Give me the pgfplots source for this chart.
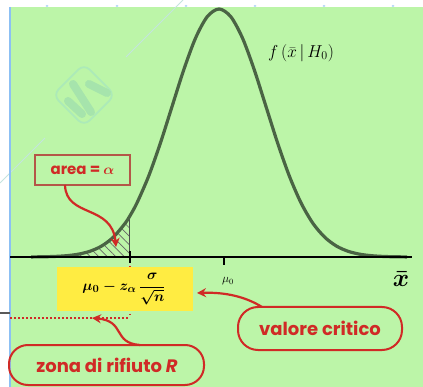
\documentclass[border=0pt]{standalone}
\usepackage{pgfplots}
\pgfplotsset{compat=1.18}
\usepackage{fontspec}
\newfontfamily\comic{Poppins}
\usetikzlibrary{arrows.meta,patterns.meta}

\definecolor{bggreen}{RGB}{188,245,168}
\definecolor{curvecol}{RGB}{74,100,68}
\definecolor{redtxt}{RGB}{208,42,38}
\definecolor{boxbrown}{RGB}{180,86,72}
\definecolor{ylw}{RGB}{255,236,66}
\definecolor{lblue}{RGB}{140,192,244}
\definecolor{wmark}{RGB}{172,234,184}
\definecolor{wstroke}{RGB}{166,228,172}
\definecolor{wline}{RGB}{196,228,222}

% standard normal density f(z) = exp(-z^2/2), tabulated
\pgfplotstableread{
z      f
-4.00  0.0003
-3.75  0.0009
-3.50  0.0022
-3.25  0.0051
-3.00  0.0111
-2.75  0.0228
-2.50  0.0439
-2.25  0.0796
-2.00  0.1353
-1.90  0.1645
-1.75  0.2163
-1.50  0.3247
-1.25  0.4578
-1.00  0.6065
-0.75  0.7548
-0.50  0.8825
-0.25  0.9692
 0.00  1.0000
 0.25  0.9692
 0.50  0.8825
 0.75  0.7548
 1.00  0.6065
 1.25  0.4578
 1.50  0.3247
 1.75  0.2163
 2.00  0.1353
 2.25  0.0796
 2.50  0.0439
 2.75  0.0228
 3.00  0.0111
 3.25  0.0051
 3.50  0.0022
 3.75  0.0009
 4.00  0.0003
}\density

% left tail up to the critical value (rejection area)
\pgfplotstableread{
z      f
-4.00  0
-4.00  0.0003
-3.75  0.0009
-3.50  0.0022
-3.25  0.0051
-3.00  0.0111
-2.75  0.0228
-2.50  0.0439
-2.25  0.0796
-2.00  0.1353
-1.90  0.1645
-1.90  0
}\tail

\begin{document}
\begin{tikzpicture}
% page background
\begin{scope}[x=1pt,y=-1pt]
  \fill[white] (0,0) rectangle (423,387);
  \fill[bggreen] (11,7) rectangle (423,387);
  % faint logo
  \draw[wline, line width=0.8pt] (183,0) -- (126,57);
  \draw[wline, line width=0.8pt] (45,138) -- (0,183);
  \begin{scope}[shift={(84,95)}, rotate=45]
    \draw[wmark, line width=1.8pt, rounded corners=8pt] (-22,-22) rectangle (22,22);
  \end{scope}
  \begin{scope}[wstroke, line width=8pt, line cap=round]
    \draw (68,101) -- (82,114);
    \draw (73,84) -- (91,112);
    \draw (89,84) -- (107,93);
  \end{scope}
\end{scope}

\begin{axis}[
  at={(0,0)}, anchor=north west,
  scale only axis, width=423pt, height=387pt,
  hide axis,
  xmin=-4.660, xmax=4.340,
  ymin=-0.5242, ymax=1.0363,
]
  \addplot[draw=none, pattern={Lines[angle=-45, distance=6pt, line width=0.7pt]},
    pattern color=gray!80!black] table[x=z, y=f] {\tail} \closedcycle;
  \addplot[gray!60!black, line width=1.2pt] coordinates {(-1.90,0) (-1.90,0.1645)};
  \addplot[curvecol, line width=3.2pt, smooth] table[x=z, y=f] {\density};
\end{axis}

\begin{scope}[x=1pt,y=-1pt]
  % left border and marks
  \draw[lblue, line width=2pt] (10,7) -- (10,387);
  \draw[gray!70!black, line width=1.5pt] (0,313) -- (10,313);
  \foreach \px in {47,117,186,255,324,393}
    \fill[lblue!70] (\px,6) ellipse (1.5pt and 1pt);

  % horizontal axis and ticks
  \draw[black, line width=2pt] (10,257) -- (412,257);
  \draw[redtxt, line width=1.5pt, dash pattern=on 1.5pt off 2.5pt] (130,262) -- (130,318);
  \draw[black, line width=2pt] (130,251) -- (130,263);
  \draw[black, line width=2pt] (224,257) -- (224,265);
  \node[font=\fontsize{12}{14}\selectfont] at (228,281) {$\mu_0$};
  \node[font={\fontsize{26}{30}\selectfont\boldmath}] at (401,279) {$\bar{x}$};
  \node[font=\fontsize{17}{20}\selectfont] at (301,53) {$f\,(\bar{x}\,|\,H_0)$};

  % critical value
  \fill[ylw] (57,267) rectangle (193,311);
  \node[font={\fontsize{15}{17}\selectfont\boldmath}] at (124,289)
    {$\displaystyle \mu_0 - z_\alpha\,\frac{\sigma}{\sqrt{n}}$};
  \draw[redtxt, line width=1.5pt, dash pattern=on 1.5pt off 2.5pt] (10,318) -- (130,318);

  % labels
  \draw[boxbrown, line width=1.4pt] (35,155) rectangle (130,185);
  \node[text=redtxt, font={\comic\bfseries\fontsize{15}{17}\selectfont\boldmath}] at (82.5,170) {area = $\alpha$};
  \draw[redtxt, line width=2pt, rounded corners=20pt] (238,307) rectangle (402,350);
  \node[text=redtxt, font={\comic\bfseries\fontsize{18}{20}\selectfont}] at (320,328) {valore critico};
  \draw[redtxt, line width=2pt, rounded corners=19pt] (9,345) rectangle (204,385);
  \node[text=redtxt, font={\comic\bfseries\fontsize{18}{20}\selectfont}] at (107,365) {zona di rifiuto \textit{R}};

  % arrows
  \draw[redtxt, line width=2.2pt, -{Stealth[length=9pt,width=9pt]}]
    (262,307) .. controls (246,297) and (226,292) .. (197,293);
  \draw[redtxt, line width=2.2pt, -{Stealth[length=9pt,width=9pt]}]
    (140,345) .. controls (112,343) and (126,321) .. (92,318);
  \draw[redtxt, line width=2.2pt, -{Stealth[length=9pt,width=9pt]}]
    (65,185) .. controls (66,218) and (112,204) .. (116,247);
\end{scope}
\pgfresetboundingbox
\path[use as bounding box] (0,0) rectangle (423pt,-387pt);
\end{tikzpicture}
\end{document}
